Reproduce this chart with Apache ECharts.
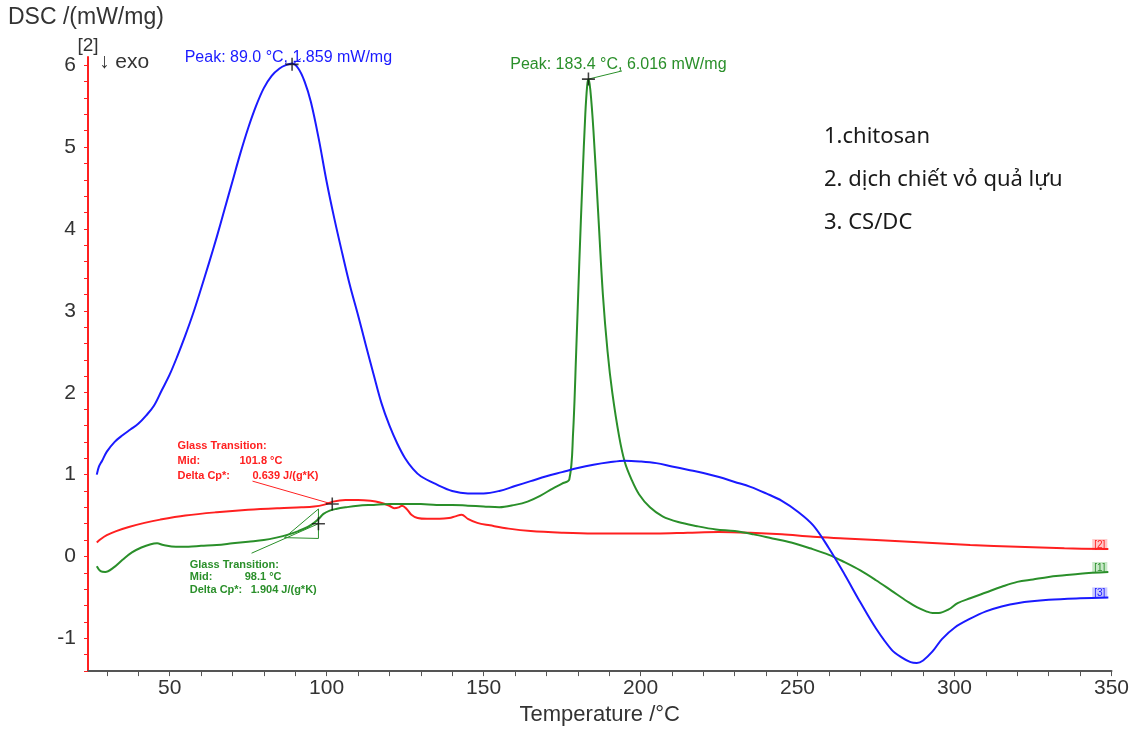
<!DOCTYPE html>
<html>
<head>
<meta charset="utf-8">
<title>DSC</title>
<script src="https://cdn.jsdelivr.net/npm/echarts@6/dist/echarts.min.js"></script>
<style>
  html, body { margin: 0; padding: 0; background: #fff; }
  #chart { width: 1132px; height: 731px; }
</style>
</head>
<body>
<div id="chart"></div>
<script>
// [1] chitosan (green)
const chitosanT = [26.8, 28, 29.5, 32, 35, 38, 41, 44, 46, 48, 52, 56, 60, 65, 70, 75, 80, 84, 88, 91, 94, 96, 97.5, 99, 101, 103, 106, 110, 115, 120, 125, 130, 135, 140, 145, 150, 155, 160, 164, 168, 172, 175, 177.3, 178.5, 179.5, 180.5, 181.5, 182.4, 183, 183.4, 184, 185, 186.5, 188, 189.5, 191, 193.2, 195, 197, 199.5, 203, 207, 212, 218, 224, 230, 236, 242, 248, 254, 260, 265, 270, 275, 280, 285, 288, 291, 293, 295, 298, 301, 305, 310, 315, 320, 325, 330, 335, 340, 349];
const chitosanDSC = [-0.12, -0.18, -0.19, -0.14, -0.04, 0.05, 0.11, 0.15, 0.16, 0.14, 0.12, 0.12, 0.13, 0.14, 0.16, 0.18, 0.20, 0.23, 0.27, 0.31, 0.36, 0.41, 0.46, 0.52, 0.56, 0.58, 0.60, 0.62, 0.63, 0.64, 0.64, 0.64, 0.63, 0.63, 0.62, 0.61, 0.60, 0.63, 0.67, 0.74, 0.83, 0.89, 0.94, 1.5, 2.5, 3.6, 4.6, 5.4, 5.75, 5.83, 5.7, 5.2, 4.2, 3.2, 2.5, 2.0, 1.46, 1.15, 0.95, 0.76, 0.6, 0.49, 0.42, 0.37, 0.33, 0.31, 0.27, 0.22, 0.17, 0.10, 0.02, -0.07, -0.17, -0.29, -0.42, -0.55, -0.62, -0.67, -0.69, -0.69, -0.65, -0.57, -0.51, -0.44, -0.37, -0.31, -0.28, -0.25, -0.23, -0.21, -0.19];

// [2] dich chiet vo qua luu (red)
const extractT = [26.8, 28, 30, 33, 37, 42, 47, 55, 65, 75, 85, 92, 96, 99, 102, 106, 110, 114, 117, 120, 121.5, 123, 124, 125.5, 127, 129, 132, 136, 139, 141, 143, 145, 148, 152, 158, 165, 175, 185, 195, 205, 215, 225, 235, 245, 255, 265, 275, 290, 305, 320, 335, 349];
const extractDSC = [0.17, 0.21, 0.26, 0.31, 0.36, 0.41, 0.45, 0.50, 0.54, 0.57, 0.59, 0.60, 0.61, 0.63, 0.67, 0.69, 0.69, 0.68, 0.66, 0.62, 0.59, 0.60, 0.62, 0.58, 0.51, 0.47, 0.46, 0.46, 0.47, 0.49, 0.51, 0.46, 0.41, 0.38, 0.34, 0.31, 0.29, 0.28, 0.28, 0.28, 0.29, 0.30, 0.29, 0.27, 0.24, 0.22, 0.20, 0.17, 0.14, 0.12, 0.10, 0.09];

// [3] CS/DC (blue)
const csdcT = [26.8, 27.5, 28.5, 30, 32.5, 35, 37.5, 40, 42.5, 45, 47.5, 50, 52.5, 55, 57.5, 60, 62.5, 65, 67.5, 70, 72.5, 75, 77.5, 80, 82.5, 85, 87, 89, 91, 93, 95, 97.5, 100, 102.5, 105, 107.5, 110, 112.5, 115, 117.5, 120, 122.5, 125, 127.5, 130, 135, 140, 145, 150, 155, 160, 165, 170, 175, 180, 185, 190, 195, 200, 205, 210, 215, 220, 225, 230, 235, 240, 245, 250, 255, 260, 265, 270, 275, 280, 283, 286, 288, 290, 293, 296, 300, 305, 310, 315, 320, 330, 340, 349];
const csdcDSC = [1.0, 1.1, 1.17, 1.28, 1.40, 1.48, 1.55, 1.62, 1.72, 1.84, 2.03, 2.22, 2.45, 2.70, 2.97, 3.27, 3.58, 3.90, 4.24, 4.58, 4.92, 5.23, 5.50, 5.72, 5.87, 5.96, 6.0, 6.02, 5.96, 5.80, 5.55, 5.10, 4.58, 4.12, 3.70, 3.30, 2.95, 2.58, 2.22, 1.87, 1.60, 1.38, 1.20, 1.07, 0.98, 0.88, 0.80, 0.77, 0.77, 0.80, 0.86, 0.92, 0.98, 1.03, 1.08, 1.12, 1.15, 1.17, 1.16, 1.14, 1.10, 1.06, 1.02, 0.97, 0.91, 0.85, 0.77, 0.68, 0.55, 0.38, 0.10, -0.22, -0.56, -0.88, -1.14, -1.23, -1.29, -1.30, -1.27, -1.16, -1.01, -0.87, -0.76, -0.67, -0.61, -0.57, -0.53, -0.51, -0.50];

const xLabelValues = [50, 100, 150, 200, 250, 300, 350];
const yLabelValues = [-1, 0, 1, 2, 3, 4, 5, 6];
const xTickValues = [];
for (let v = 30; v <= 350; v += 10) xTickValues.push(v);
const yTickValues = [];
for (let k = -7; k <= 30; k++) yTickValues.push(Number((k * 0.2).toFixed(1)));

// annotation anchors (data coordinates)
const crossMarks = [[89.0, 6.01], [183.4, 5.83], [101.8, 0.64], [97.4, 0.40]];
const greenPeakLeader = [[183.4, 5.83], [194.1, 5.93]];
const bluePeakLeader = [[89.0, 6.01], [91.8, 6.08]];
const redGlassLeader = [[76.4, 0.92], [101.8, 0.64]];
const greenGlassLeader = [[76.1, 0.04], [97.4, 0.40]];
const greenTangentA = [[86.6, 0.23], [97.4, 0.58]];
const greenTangentB = [[86.6, 0.23], [97.4, 0.22]];
const greenTangentC = [[97.4, 0.58], [97.4, 0.22]];

const RED = '#ff2020';
const GREEN = '#2a8f2a';
const BLUE = '#1a1aff';
const FONT = '"Liberation Sans", Arial, sans-serif';

function zip(t, v) {
  return t.map((x, i) => [x, v[i]]);
}

function curve(name, t, v, color) {
  return {
    name: name,
    type: 'line',
    data: zip(t, v),
    showSymbol: false,
    smooth: 0.35,
    lineStyle: { color: color, width: 2 },
    silent: true,
  };
}

function leader(seg, color) {
  return {
    type: 'line',
    data: seg,
    showSymbol: false,
    lineStyle: { color: color, width: 1 },
    silent: true,
  };
}

const chart = echarts.init(document.getElementById('chart'));

chart.setOption({
  animation: false,
  grid: { left: 88, right: 19, top: 57, bottom: 55 },
  xAxis: {
    type: 'value',
    min: 24,
    max: 350,
    name: 'Temperature /°C',
    nameLocation: 'middle',
    nameGap: 32,
    nameTextStyle: { color: '#333', fontSize: 22, fontFamily: FONT },
    axisLine: { onZero: false, lineStyle: { color: '#555', width: 2 } },
    axisTick: { customValues: xTickValues, length: 5, lineStyle: { color: '#555' } },
    axisLabel: { customValues: xLabelValues, color: '#333', fontSize: 21, fontFamily: FONT, margin: 7 },
    splitLine: { show: false },
  },
  yAxis: {
    type: 'value',
    min: -1.4,
    max: 6.1,
    axisLine: { show: true, lineStyle: { color: RED, width: 2 } },
    axisTick: { show: true, customValues: yTickValues, length: 4, lineStyle: { color: RED } },
    axisLabel: { customValues: yLabelValues, color: '#333', fontSize: 21, fontFamily: FONT, margin: 12 },
    splitLine: { show: false },
  },
  series: [
    curve('[2]', extractT, extractDSC, RED),
    curve('[1]', chitosanT, chitosanDSC, GREEN),
    curve('[3]', csdcT, csdcDSC, BLUE),
    leader(greenPeakLeader, GREEN),
    leader(bluePeakLeader, BLUE),
    leader(redGlassLeader, RED),
    leader(greenGlassLeader, GREEN),
    leader(greenTangentA, GREEN),
    leader(greenTangentB, GREEN),
    leader(greenTangentC, GREEN),
    {
      type: 'scatter',
      data: crossMarks,
      symbol: 'path://M4.4,0h1.2v4.4h4.4v1.2h-4.4v4.4h-1.2v-4.4h-4.4v-1.2h4.4z',
      symbolSize: 13,
      itemStyle: { color: '#111' },
      silent: true,
      z: 5,
    },
  ],
});

const toPx = (p) => chart.convertToPixel({ gridIndex: 0 }, p);

function txt(p, text, fill, size, extra) {
  return {
    type: 'text',
    x: p[0],
    y: p[1],
    silent: true,
    style: Object.assign({
      text: text,
      fill: fill,
      fontSize: size,
      fontFamily: FONT,
      align: 'left',
      verticalAlign: 'middle',
    }, extra || {}),
  };
}

function glassBlock(anchor, color, mid, cp, lineGap, col1, col2) {
  const p = toPx(anchor);
  const bold = { fontWeight: 'bold' };
  return [
    txt([p[0], p[1]], 'Glass Transition:', color, 11, bold),
    txt([p[0], p[1] + lineGap], 'Mid:', color, 11, bold),
    txt([p[0] + col1, p[1] + lineGap], mid, color, 11, bold),
    txt([p[0], p[1] + 2 * lineGap], 'Delta Cp*:', color, 11, bold),
    txt([p[0] + col2, p[1] + 2 * lineGap], cp, color, 11, bold),
  ];
}

function endTag(t, v, text, color, bg) {
  const p = toPx([t[t.length - 1], v[v.length - 1]]);
  return txt([p[0] - 1, p[1] + 1], text, color, 10, {
    align: 'right',
    verticalAlign: 'bottom',
    backgroundColor: bg,
    padding: [1, 2, 0, 2],
  });
}

const LEGEND_FONT = '"Noto Sans", sans-serif';

const graphics = [
  txt([8, 18], 'DSC /(mW/mg)', '#333', 23),
  txt([88, 46], '[2]', '#333', 19, { align: 'center' }),
  txt([99, 62], '↓ exo', '#333', 21),
  txt([824, 137], '1.chitosan', '#1a1a1a', 22, { fontFamily: LEGEND_FONT }),
  txt([824, 180], '2. dịch chiết vỏ quả lựu', '#1a1a1a', 22, { fontFamily: LEGEND_FONT }),
  txt([824, 223], '3. CS/DC', '#1a1a1a', 22, { fontFamily: LEGEND_FONT }),
  txt(toPx([54.8, 6.09]), 'Peak: 89.0 °C, 1.859 mW/mg', BLUE, 16),
  txt(toPx([158.5, 6.01]), 'Peak: 183.4 °C, 6.016 mW/mg', GREEN, 16),
  endTag(extractT, extractDSC, '[2]', RED, '#ffc8c8'),
  endTag(chitosanT, chitosanDSC, '[1]', GREEN, '#c8e8c8'),
  endTag(csdcT, csdcDSC, '[3]', BLUE, '#c8c8ff'),
].concat(
  glassBlock([52.5, 1.35], RED, '101.8 °C', '0.639 J/(g*K)', 15, 62, 75),
  glassBlock([56.4, -0.10], GREEN, '98.1 °C', '1.904 J/(g*K)', 12.5, 55, 61)
);

chart.setOption({ graphic: graphics });
</script>
</body>
</html>
